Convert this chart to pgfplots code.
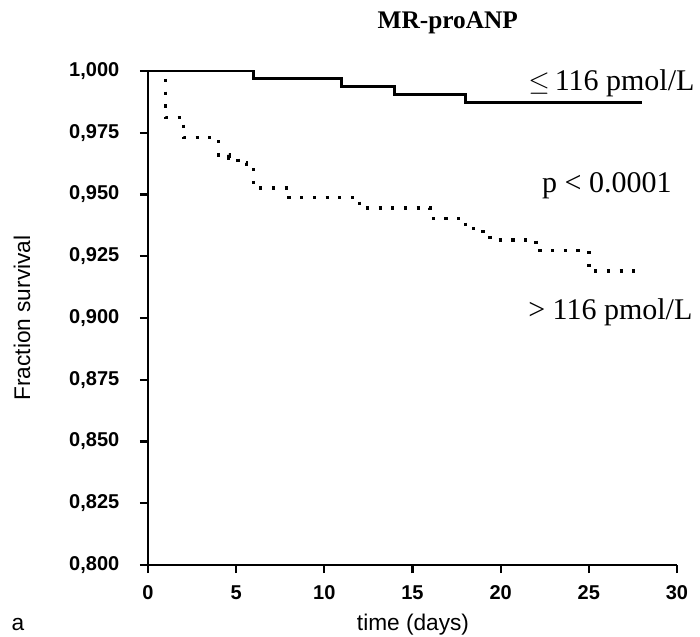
\documentclass[border=0pt]{standalone}
\usepackage{fontspec}
\setmainfont{Liberation Serif}
\setsansfont{Liberation Sans}
\usepackage{pgfplots}
\pgfplotsset{compat=1.18}
\begin{document}
\begin{tikzpicture}
\useasboundingbox (-111pt,-53.25pt) rectangle (414pt,423.75pt);
\begin{axis}[
  scale only axis, width=396.75pt, height=370.5pt,
  xmin=0, xmax=30, ymin=0.8, ymax=1.0,
  axis lines=left, axis line style={-, line width=1.6pt},
  xtick={0,5,10,15,20,25,30},
  ytick={0.8,0.825,0.85,0.875,0.9,0.925,0.95,0.975,1.0},
  tick align=outside, major tick length=6pt,
  tick style={line width=1.6pt, black},
  tick label style={font=\sffamily\bfseries\fontsize{15}{18}\selectfont},
  /pgf/number format/assume math mode=true,
  yticklabel style={xshift=-12pt, /pgf/number format/fixed, /pgf/number format/fixed zerofill,
    /pgf/number format/precision=3, /pgf/number format/use comma},
  xticklabel style={yshift=-6pt},
  clip=false,
]
\addplot[const plot, black, line width=2.5pt, dash pattern=on 2.4pt off 7.1pt, dash phase=-6pt] coordinates {
(1,1.000) (1,0.9811) (2,0.973) (4,0.966) (4.6,0.9648) (5.1,0.9628) (5.6,0.9607)
(6,0.9526) (8,0.9487) (12,0.9445) (16,0.9404) (18,0.9363) (19,0.9336) (19.4,0.9316)
(22,0.9272) (25,0.919) (28,0.919)};
\addplot[const plot, black, line width=2.2pt] coordinates {
(0,1.000) (6,0.9968) (11,0.9936) (14,0.9904) (18,0.9872) (28,0.9872)};
\node[anchor=base, font=\bfseries\fontsize{19}{22}\selectfont] at (axis cs:17.0,1.0174) {MR-proANP};
\node[anchor=base west, font=\fontsize{22.5}{26}\selectfont, inner sep=0pt] at (axis cs:21.55,0.9923) {$\leq$\,116 pmol/L};
\node[anchor=base west, font=\fontsize{22.5}{26}\selectfont, inner sep=0pt] at (axis cs:22.34,0.951) {p < 0.0001};
\node[anchor=base west, font=\fontsize{22.5}{26}\selectfont, inner sep=0pt] at (axis cs:21.55,0.8995) {> 116 pmol/L};
\node[rotate=90, font=\sffamily\fontsize{17}{20}\selectfont] at (axis cs:-7.15,0.9) {Fraction survival};
\node[anchor=base, font=\sffamily\fontsize{17}{20}\selectfont] at (axis cs:15.03,0.7733) {time (days)};
\node[anchor=base, font=\sffamily\fontsize{17}{20}\selectfont] at (axis cs:-7.37,0.7733) {a};
\end{axis}
\end{tikzpicture}
\end{document}
